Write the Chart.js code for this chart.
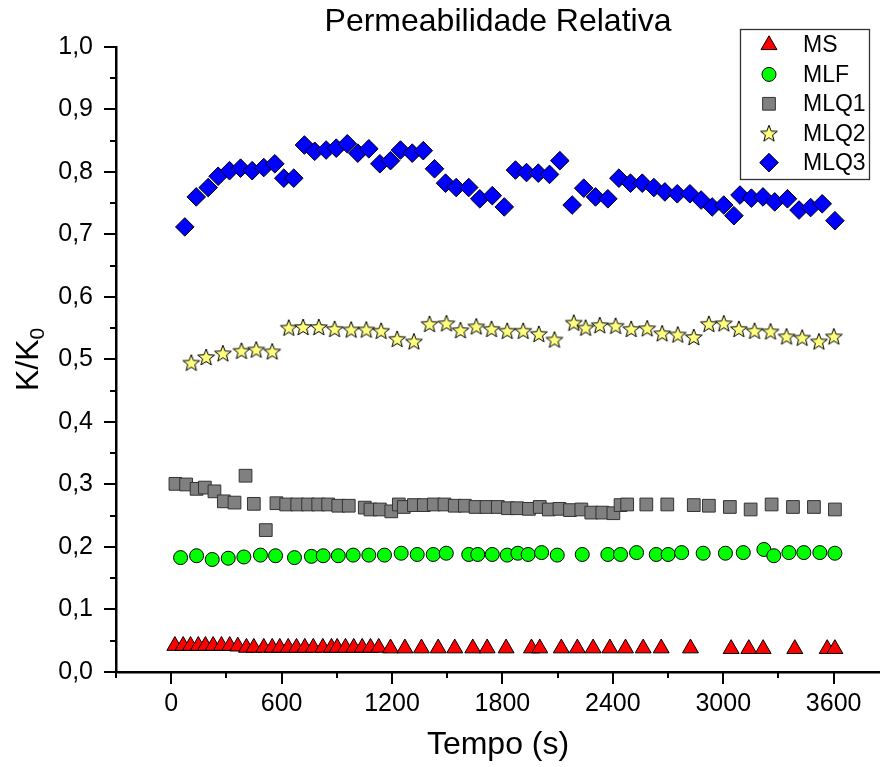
<!DOCTYPE html>
<html>
<head>
<meta charset="utf-8">
<script src="https://cdn.jsdelivr.net/npm/chart.js@4.4.1/dist/chart.umd.min.js"></script>
<style>
  html, body { margin: 0; padding: 0; background: #fff; }
  #wrap { width: 880px; height: 767px; }
</style>
</head>
<body>
<div id="wrap"><canvas id="permChart" width="880" height="767"></canvas></div>
<script>
// tempo (s) e K/K0
const msX = [20, 65, 105, 147, 186, 228, 273, 318, 362, 409, 449, 503, 549, 590, 636, 681, 726, 772, 824, 871, 902, 947, 992, 1038, 1083, 1128, 1192, 1270, 1360, 1451, 1541, 1639, 1717, 1820, 1958, 2003, 2120, 2207, 2293, 2384, 2469, 2565, 2663, 2822, 3043, 3139, 3217, 3389, 3565, 3607];
const msY = [0.042, 0.042, 0.042, 0.042, 0.042, 0.042, 0.042, 0.042, 0.041, 0.039, 0.039, 0.039, 0.039, 0.039, 0.039, 0.039, 0.039, 0.039, 0.039, 0.039, 0.039, 0.039, 0.039, 0.039, 0.039, 0.039, 0.038, 0.038, 0.038, 0.038, 0.038, 0.038, 0.038, 0.038, 0.038, 0.038, 0.038, 0.038, 0.038, 0.038, 0.038, 0.038, 0.038, 0.038, 0.037, 0.037, 0.037, 0.037, 0.037, 0.037];

const mlfX = [51, 138, 223, 310, 395, 485, 567, 670, 762, 826, 908, 989, 1074, 1159, 1250, 1337, 1424, 1495, 1617, 1666, 1745, 1826, 1884, 1940, 2013, 2098, 2234, 2373, 2442, 2529, 2636, 2701, 2774, 2891, 3012, 3109, 3221, 3275, 3357, 3438, 3525, 3607];
const mlfY = [0.183, 0.186, 0.180, 0.182, 0.184, 0.187, 0.186, 0.183, 0.185, 0.186, 0.186, 0.187, 0.187, 0.187, 0.190, 0.188, 0.188, 0.190, 0.188, 0.188, 0.188, 0.187, 0.190, 0.188, 0.191, 0.187, 0.188, 0.188, 0.188, 0.191, 0.188, 0.188, 0.191, 0.190, 0.190, 0.191, 0.196, 0.186, 0.191, 0.191, 0.191, 0.190];

const mlq1X = [23, 81, 138, 183, 235, 286, 344, 404, 449, 514, 572, 625, 685, 744, 799, 853, 908, 965, 1052, 1083, 1134, 1196, 1237, 1264, 1319, 1373, 1427, 1485, 1541, 1596, 1654, 1714, 1775, 1830, 1880, 1944, 2003, 2052, 2110, 2167, 2229, 2283, 2343, 2403, 2442, 2478, 2582, 2696, 2840, 2922, 3036, 3149, 3263, 3379, 3493, 3607];
const mlq1Y = [0.301, 0.300, 0.293, 0.295, 0.289, 0.273, 0.271, 0.314, 0.269, 0.227, 0.270, 0.268, 0.268, 0.268, 0.268, 0.268, 0.266, 0.266, 0.263, 0.260, 0.260, 0.257, 0.268, 0.264, 0.267, 0.267, 0.268, 0.268, 0.266, 0.266, 0.264, 0.264, 0.264, 0.262, 0.262, 0.261, 0.264, 0.260, 0.261, 0.259, 0.260, 0.255, 0.255, 0.254, 0.267, 0.268, 0.268, 0.268, 0.267, 0.266, 0.264, 0.260, 0.268, 0.264, 0.264, 0.260];

const mlq2X = [109, 190, 281, 382, 462, 549, 639, 717, 802, 888, 978, 1060, 1141, 1228, 1319, 1404, 1496, 1572, 1658, 1741, 1826, 1913, 1998, 2083, 2188, 2252, 2329, 2415, 2500, 2587, 2668, 2753, 2840, 2922, 3003, 3085, 3170, 3257, 3344, 3429, 3520, 3601];
const mlq2Y = [0.495, 0.504, 0.510, 0.514, 0.516, 0.513, 0.551, 0.552, 0.552, 0.549, 0.548, 0.548, 0.546, 0.533, 0.529, 0.557, 0.558, 0.547, 0.553, 0.549, 0.546, 0.546, 0.541, 0.532, 0.559, 0.551, 0.555, 0.554, 0.549, 0.550, 0.542, 0.540, 0.536, 0.557, 0.558, 0.549, 0.546, 0.545, 0.537, 0.535, 0.529, 0.537];

const mlq3X = [74, 136, 201, 255, 317, 377, 440, 503, 563, 612, 666, 724, 780, 842, 897, 957, 1014, 1074, 1134, 1192, 1246, 1310, 1370, 1431, 1491, 1549, 1617, 1677, 1745, 1810, 1871, 1931, 1995, 2056, 2112, 2179, 2242, 2306, 2373, 2433, 2496, 2560, 2623, 2683, 2750, 2819, 2880, 2940, 3003, 3058, 3091, 3153, 3216, 3280, 3349, 3412, 3475, 3538, 3607];
const mlq3Y = [0.712, 0.760, 0.775, 0.793, 0.802, 0.806, 0.802, 0.807, 0.813, 0.790, 0.790, 0.843, 0.833, 0.835, 0.838, 0.845, 0.830, 0.837, 0.813, 0.818, 0.835, 0.830, 0.834, 0.805, 0.782, 0.775, 0.775, 0.757, 0.762, 0.744, 0.803, 0.799, 0.798, 0.796, 0.818, 0.747, 0.774, 0.760, 0.757, 0.790, 0.782, 0.782, 0.775, 0.768, 0.765, 0.765, 0.755, 0.744, 0.747, 0.730, 0.763, 0.758, 0.760, 0.752, 0.757, 0.739, 0.743, 0.749, 0.722];

const seriesNames = ['MS', 'MLF', 'MLQ1', 'MLQ2', 'MLQ3'];
const xTickLabels = [0, 600, 1200, 1800, 2400, 3000, 3600];

const FONT = '"Liberation Sans", Arial, sans-serif';

function makeStar(fill) {
  const c = document.createElement('canvas');
  c.width = 20; c.height = 20;
  const g = c.getContext('2d');
  g.beginPath();
  for (let i = 0; i < 10; i++) {
    const r = i % 2 === 0 ? 8.8 : 3.7;
    const a = -Math.PI / 2 + i * Math.PI / 5;
    const px = 10 + r * Math.cos(a), py = 10.8 + r * Math.sin(a);
    if (i === 0) g.moveTo(px, py); else g.lineTo(px, py);
  }
  g.closePath();
  g.fillStyle = fill;
  g.fill();
  g.lineWidth = 1;
  g.strokeStyle = '#000';
  g.stroke();
  return c;
}
const starImg = makeStar('#ffff80');

const styles = [
  { pointStyle: 'triangle', radius: 9.2, bg: '#ff0000', border: '#000' },
  { pointStyle: 'circle', radius: 7, bg: '#00ff00', border: '#000' },
  { pointStyle: 'rect', radius: 9, bg: '#808080', border: '#333' },
  { pointStyle: starImg, radius: 9, bg: '#ffff80', border: '#000' },
  { pointStyle: 'rectRot', radius: 9.3, bg: '#0000ff', border: '#000' }
];

const xsList = [msX, mlfX, mlq1X, mlq2X, mlq3X];
const ysList = [msY, mlfY, mlq1Y, mlq2Y, mlq3Y];

const datasets = seriesNames.map((name, i) => ({
  label: name,
  data: xsList[i].map((x, k) => ({ x: x, y: ysList[i][k] })),
  showLine: false,
  pointStyle: styles[i].pointStyle,
  pointRadius: styles[i].radius,
  pointHoverRadius: styles[i].radius,
  pointBackgroundColor: styles[i].bg,
  pointBorderColor: styles[i].border,
  pointBorderWidth: 1,
  clip: false
}));

// ticks maiores e menores do estilo Origin
const axisTicks = {
  id: 'axisTicks',
  afterDraw(chart) {
    const { ctx, chartArea, scales } = chart;
    const x = scales.x, y = scales.y;
    ctx.save();
    ctx.strokeStyle = '#000';
    ctx.lineWidth = 2;
    ctx.beginPath();
    for (let v = -300; v <= x.max; v += 300) {
      const px = Math.round(x.getPixelForValue(v));
      const len = v % 600 === 0 ? 12 : 6;
      ctx.moveTo(px, chartArea.bottom);
      ctx.lineTo(px, chartArea.bottom + len);
    }
    for (let i = 0; i <= 20; i++) {
      const py = Math.round(y.getPixelForValue(i * 0.05));
      const len = i % 2 === 0 ? 12 : 6;
      ctx.moveTo(chartArea.left, py);
      ctx.lineTo(chartArea.left - len, py);
    }
    ctx.stroke();
    ctx.restore();
  }
};

const yTitle = {
  id: 'yTitle',
  afterDraw(chart) {
    const { ctx, chartArea } = chart;
    const cy = (chartArea.top + chartArea.bottom) / 2;
    ctx.save();
    ctx.translate(26, cy);
    ctx.rotate(-Math.PI / 2);
    ctx.fillStyle = '#000';
    ctx.textAlign = 'left';
    ctx.textBaseline = 'alphabetic';
    ctx.font = '32px ' + FONT;
    const wMain = ctx.measureText('K/K').width;
    ctx.font = '21px ' + FONT;
    const wSub = ctx.measureText('0').width;
    const start = -(wMain + wSub) / 2;
    ctx.font = '32px ' + FONT;
    ctx.fillText('K/K', start, 11.5);
    ctx.font = '21px ' + FONT;
    ctx.fillText('0', start + wMain, 18);
    ctx.restore();
  }
};

const boxLegend = {
  id: 'boxLegend',
  afterDraw(chart) {
    const { ctx } = chart;
    ctx.save();
    ctx.fillStyle = '#fff';
    ctx.fillRect(740, 29, 129, 150);
    ctx.strokeStyle = '#333';
    ctx.lineWidth = 1.3;
    ctx.strokeRect(740.5, 29.5, 129, 150);
    chart.data.datasets.forEach((ds, i) => {
      const ry = 45 + i * 29.4;
      ctx.fillStyle = ds.pointBackgroundColor;
      ctx.strokeStyle = ds.pointBorderColor;
      ctx.lineWidth = 1;
      Chart.helpers.drawPoint(ctx, { pointStyle: ds.pointStyle, radius: ds.pointRadius, borderWidth: 1, rotation: 0 }, 769, ry);
      ctx.fillStyle = '#000';
      ctx.font = '23px ' + FONT;
      ctx.textAlign = 'left';
      ctx.textBaseline = 'middle';
      ctx.fillText(ds.label, 803, ry + 1);
    });
    ctx.restore();
  }
};

Chart.defaults.font.family = FONT;
Chart.defaults.color = '#000';

new Chart(document.getElementById('permChart'), {
  type: 'scatter',
  data: { datasets: datasets },
  options: {
    responsive: false,
    animation: false,
    layout: { padding: 0, autoPadding: false },
    plugins: {
      legend: { display: false },
      tooltip: { enabled: false },
      title: {
        display: true,
        text: 'Permeabilidade Relativa',
        fullSize: false,
        font: { size: 32, weight: 'normal' },
        color: '#000',
        padding: { top: 3, bottom: 5.5 }
      }
    },
    scales: {
      x: {
        type: 'linear',
        position: 'bottom',
        min: -300,
        max: 3852,
        grid: { display: false, drawTicks: false },
        border: { display: true, color: '#000', width: 2.5 },
        afterBuildTicks: s => { s.ticks = xTickLabels.map(v => ({ value: v })); },
        ticks: {
          autoSkip: false,
          maxRotation: 0,
          padding: 17,
          font: { size: 25 },
          callback: v => String(v)
        },
        title: {
          display: true,
          text: 'Tempo (s)',
          font: { size: 32 },
          padding: { top: 0, bottom: 3 }
        },
        afterFit: s => { s.height = 95; s.paddingLeft = 0; s.paddingRight = 0; }
      },
      y: {
        min: 0,
        max: 1,
        grid: { display: false, drawTicks: false },
        border: { display: true, color: '#000', width: 2.5 },
        ticks: {
          stepSize: 0.1,
          padding: 23,
          font: { size: 25 },
          callback: v => v.toFixed(1).replace('.', ',')
        },
        afterFit: s => { s.width = 116; s.paddingTop = 0; s.paddingBottom = 0; }
      }
    }
  },
  plugins: [axisTicks, yTitle, boxLegend]
});
</script>
</body>
</html>
